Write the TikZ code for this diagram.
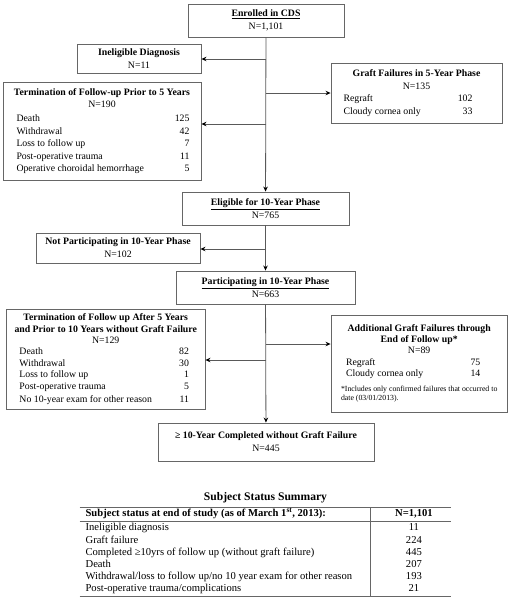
\documentclass[tikz,border=0pt]{standalone}
\usepackage{fontspec}
\setmainfont{Liberation Serif}
\usepackage{array}
\usepackage{colortbl}
\usepackage{tikz}
\usetikzlibrary{arrows.meta, positioning}
\tikzstyle{cbox} = [rectangle, draw=black!60, line width=0.9pt, text centered, align=center, inner sep=0pt, font=\fontsize{9.8}{13}\selectfont]
\tikzstyle{lbox} = [rectangle, draw=black!60, line width=0.9pt, inner sep=0pt, font=\fontsize{9.8}{12.6}\selectfont]
\tikzstyle{arrow} = [line width=0.8pt, draw=black!65, -{Stealth[length=5pt, width=4.5pt, color=black]}]

\begin{document}
\begin{tikzpicture}[x=1pt, y=-1pt]
   \useasboundingbox (0,0) rectangle (512,600);
   % main column
   \node (enroll) [cbox, minimum width=156pt, minimum height=33pt] at (266,20.5) {\underline{\textbf{Enrolled in CDS}}\\N=1,101};
   \node (elig) [cbox, minimum width=167pt, minimum height=33pt] at (265.5,208.5) {\underline{\textbf{Eligible for 10-Year Phase}}\\N=765};
   \node (part) [cbox, minimum width=179pt, minimum height=33pt] at (265.5,287.5) {\underline{\textbf{Participating in 10-Year Phase}}\\N=663};
   \node (done) [cbox, minimum width=216pt, minimum height=38pt] at (266,442) {\textbf{≥ 10-Year Completed without Graft Failure}\\N=445};
   % side boxes
   \node (inel) [cbox, minimum width=124pt, minimum height=29pt] at (139,58.5) {\textbf{Ineligible Diagnosis}\\N=11};
   \node (notpart) [cbox, minimum width=164pt, minimum height=30pt] at (118,248) {\textbf{Not Participating in 10-Year Phase}\\N=102};
   \node (term5) [lbox, minimum width=198pt, minimum height=98pt] at (102,131) {%
      \begin{tabular*}{177pt}{@{\hspace{3pt}}l@{\extracolsep{\fill}}r@{\hspace{1pt}}}
      \multicolumn{2}{@{}c@{}}{\textbf{Termination of Follow-up Prior to 5 Years}}\\
      \multicolumn{2}{@{}c@{}}{N=190}\\[1pt]
      Death & 125\\
      Withdrawal & 42\\
      Loss to follow up & 7\\
      Post-operative trauma & 11\\
      Operative choroidal hemorrhage & 5
      \end{tabular*}};
   \node (graft5) [lbox, minimum width=171pt, minimum height=60pt] at (416.5,93) {%
      \begin{tabular*}{146pt}{@{}l@{\extracolsep{\fill}}r@{\hspace{17pt}}}
      \multicolumn{2}{@{}c@{}}{\textbf{Graft Failures in 5-Year Phase}}\\
      \multicolumn{2}{@{}c@{}}{N=135}\\
      Regraft & 102\\
      Cloudy cornea only & 33
      \end{tabular*}};
   \node (term10) [lbox, minimum width=199pt, minimum height=100pt] at (105.5,359) {%
      \begin{tabular*}{182pt}{@{\hspace{5pt}}l@{\extracolsep{\fill}}r@{\hspace{8pt}}}
      \multicolumn{2}{@{}c@{}}{\textbf{Termination of Follow up After 5 Years}}\\[-1pt]
      \multicolumn{2}{@{}c@{}}{\textbf{and Prior to 10 Years without Graft Failure}}\\[-2pt]
      \multicolumn{2}{@{}c@{}}{N=129}\\[-1pt]
      Death & 82\\[-1pt]
      Withdrawal & 30\\[-1pt]
      Loss to follow up & 1\\[-1pt]
      Post-operative trauma & 5\\
      No 10-year exam for other reason & 11
      \end{tabular*}};
   \node (addgf) [lbox, minimum width=176pt, minimum height=97pt] at (419,363.5) {%
      \begin{tabular*}{156pt}{@{\hspace{5pt}}l@{\extracolsep{\fill}}r@{\hspace{17pt}}}
      \multicolumn{2}{@{}c@{}}{\textbf{Additional Graft Failures through}}\\[-1pt]
      \multicolumn{2}{@{}c@{}}{\textbf{End of Follow up*}}\\[-2pt]
      \multicolumn{2}{@{}c@{}}{N=89}\\[-1pt]
      Regraft & 75\\[-1pt]
      Cloudy cornea only & 14\\[2pt]
      \multicolumn{2}{@{}l@{}}{\fontsize{7.8}{9}\selectfont *Includes only confirmed failures that occurred to}\\[-3pt]
      \multicolumn{2}{@{}l@{}}{\fontsize{7.8}{9}\selectfont date (03/01/2013).}
      \end{tabular*}};
   % branch points on the main line
   \coordinate (j1) at (266,59);
   \coordinate (j2) at (266,93);
   \coordinate (j3) at (266,124);
   \coordinate (j4) at (266,249);
   \coordinate (j5) at (266,344);
   \coordinate (j6) at (266,360);
   \draw [arrow] (enroll) -- (elig);
   \draw [arrow] (j1) -- (j1 -| inel.east);
   \draw [arrow] (j2) -- (j2 -| graft5.west);
   \draw [arrow] (j3) -- (j3 -| term5.east);
   \draw [arrow] (elig) -- (part);
   \draw [arrow] (j4) -- (j4 -| notpart.east);
   \draw [arrow] (part) -- (done);
   \draw [arrow] (j5) -- (j5 -| addgf.west);
   \draw [arrow] (j6) -- (j6 -| term10.east);
   % summary table
   \node (tbl) [inner sep=0pt, font=\fontsize{10.6}{12.2}\selectfont] at (265.5,551.5) {%
      \arrayrulecolor{black!60}\setlength{\arrayrulewidth}{0.8pt}%
      \begin{tabular}{@{\hspace{6pt}}p{278pt}@{\hspace{6pt}}|>{\centering\arraybackslash}p{75pt}@{}}
      \hline
      \textbf{Subject status at end of study (as of March 1\textsuperscript{st}, 2013):} & \textbf{N=1,101}\\[1pt]
      \noalign{\global\arrayrulewidth=1.6pt}\hline
      \noalign{\global\arrayrulewidth=0.8pt}
      Ineligible diagnosis & 11\\
      Graft failure & 224\\
      Completed ≥10yrs of follow up (without graft failure) & 445\\
      Death & 207\\
      Withdrawal/loss to follow up/no 10 year exam for other reason & 193\\
      Post-operative trauma/complications & 21\\
      \hline
      \end{tabular}};
   \node (tbltitle) [above=0pt of tbl, font=\fontsize{11.6}{13}\selectfont\bfseries] {Subject Status Summary};
\end{tikzpicture}
\end{document}
